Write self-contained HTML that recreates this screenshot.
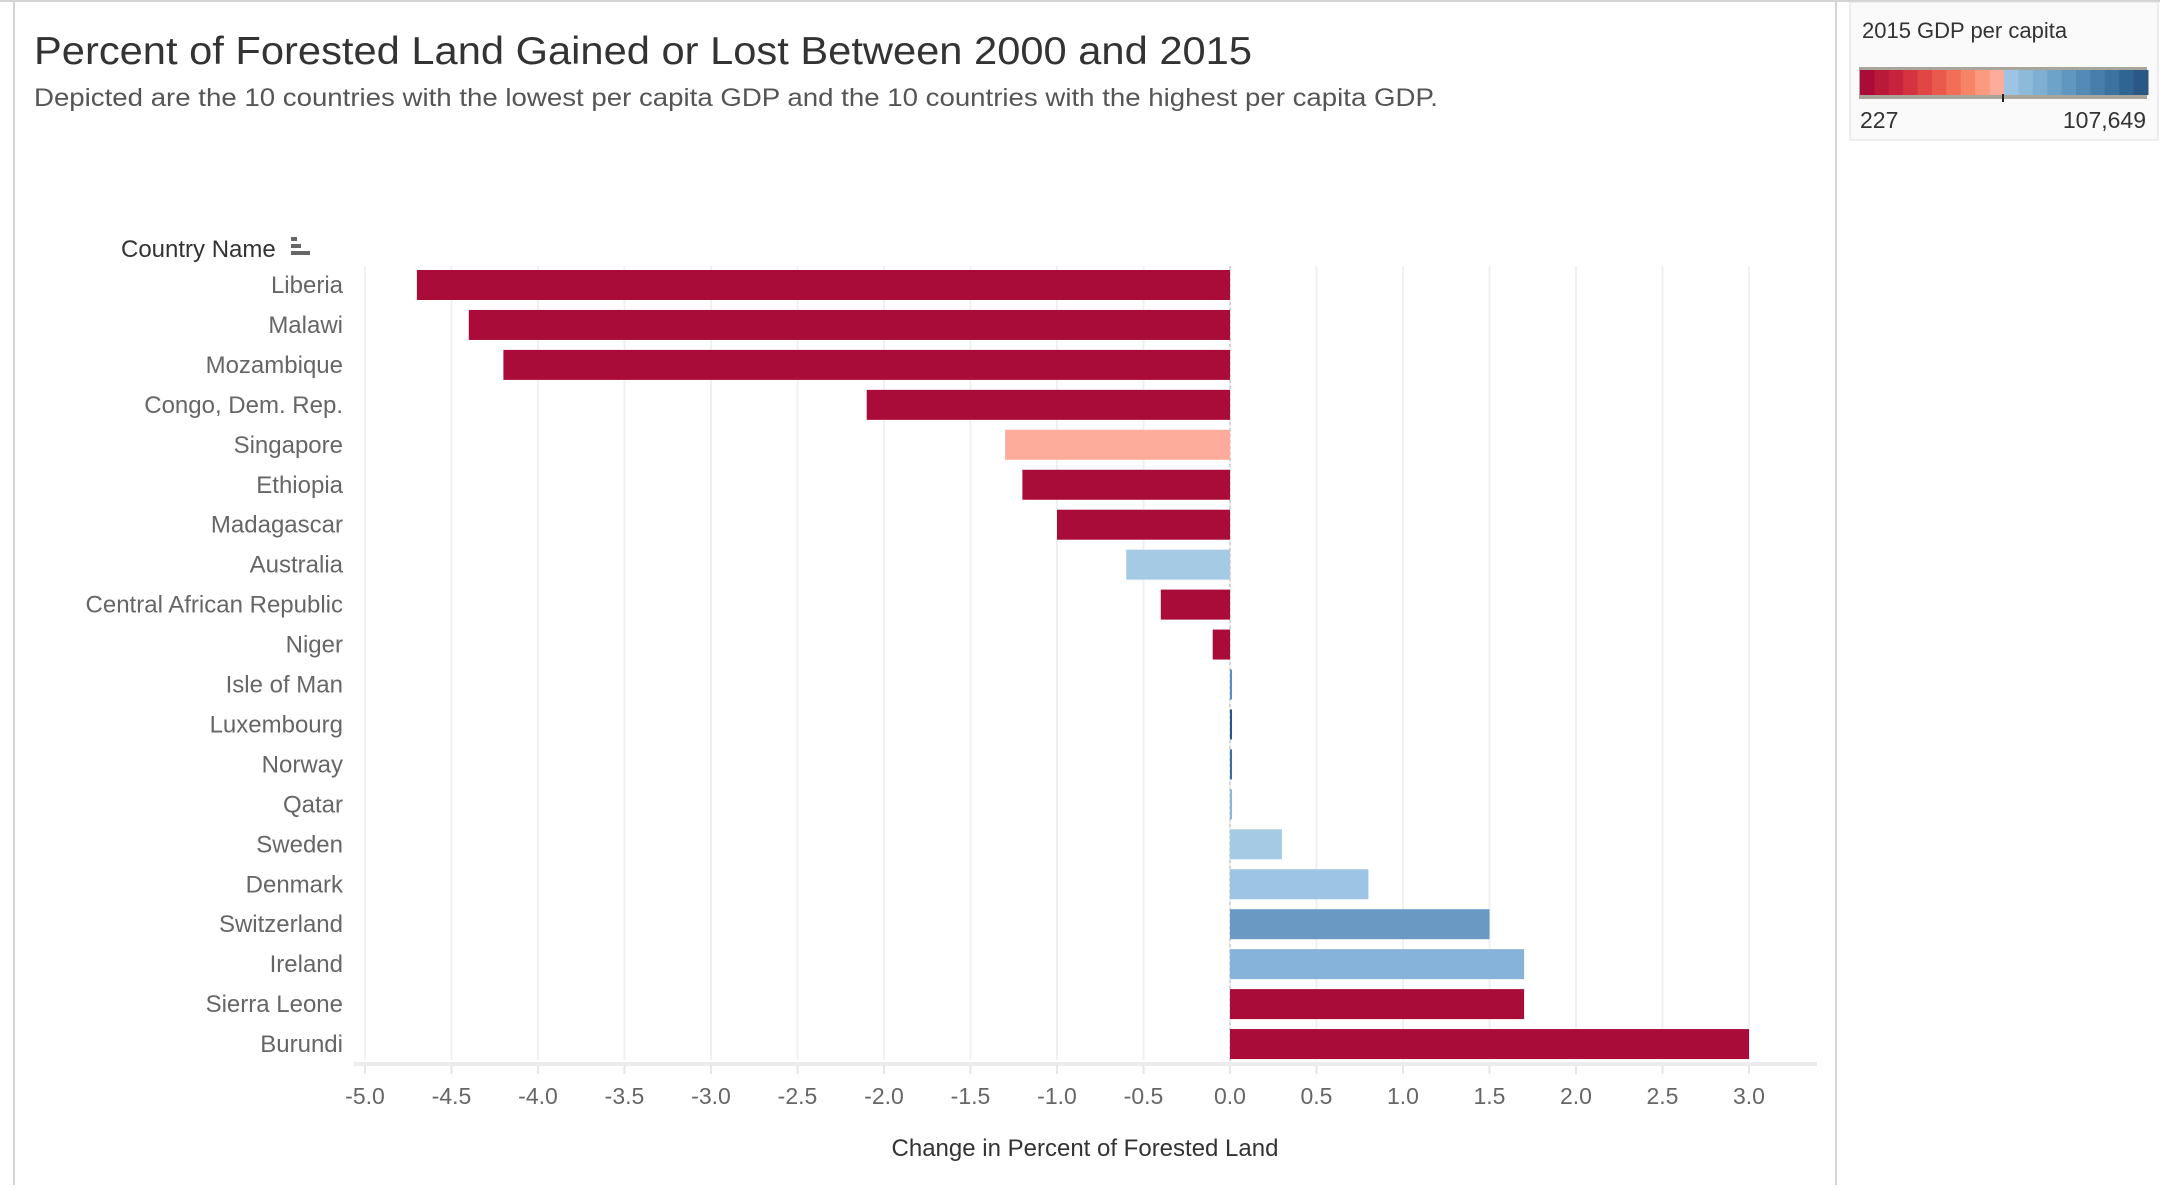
<!DOCTYPE html>
<html><head><meta charset="utf-8"><style>
body{margin:0;width:2160px;height:1185px;background:#fff;overflow:hidden;font-family:"Liberation Sans",sans-serif;}
</style></head><body>
<svg width="2160" height="1185" xmlns="http://www.w3.org/2000/svg">
<rect x="0" y="0" width="2160" height="2" fill="#d4d4d4"/>
<rect x="13" y="0" width="2" height="1185" fill="#d4d4d4"/>
<rect x="1835" y="0" width="2" height="1185" fill="#d4d4d4"/>
<text x="34" y="64" font-size="39" fill="#333" textLength="1218" lengthAdjust="spacingAndGlyphs">Percent of Forested Land Gained or Lost Between 2000 and 2015</text>
<text x="34" y="106" font-size="25" fill="#555" textLength="1404" lengthAdjust="spacingAndGlyphs">Depicted are the 10 countries with the lowest per capita GDP and the 10 countries with the highest per capita GDP.</text>
<g>
<rect x="1850" y="2" width="308" height="138" fill="#fafafa" stroke="#ddd"/>
<text x="1862" y="38" font-size="22" fill="#333">2015 GDP per capita</text>
<rect x="1859" y="67" width="288" height="32" fill="#aaa59a"/>
<g id="ramp"></g>
<line x1="2003" y1="94" x2="2003" y2="102" stroke="#222" stroke-width="2"/>
<text x="1860" y="128" font-size="23" fill="#333">227</text>
<text x="2146" y="128" font-size="23" fill="#333" text-anchor="end">107,649</text>
</g>
<text x="121" y="257" font-size="24" fill="#333">Country Name</text>
<g><rect x="291" y="237" width="6" height="4" fill="#666"/><rect x="291" y="244" width="10" height="4" fill="#666"/><rect x="291" y="251" width="19" height="4" fill="#666"/></g>
<g id="grid"></g><g id="bars"></g><g id="labels"></g><g id="ticks"></g>
<text x="1085" y="1156" font-size="24" fill="#333" text-anchor="middle">Change in Percent of Forested Land</text>
</svg>
<script>
const countries=["Liberia","Malawi","Mozambique","Congo, Dem. Rep.","Singapore","Ethiopia","Madagascar","Australia","Central African Republic","Niger","Isle of Man","Luxembourg","Norway","Qatar","Sweden","Denmark","Switzerland","Ireland","Sierra Leone","Burundi"];
const values=[-4.7,-4.4,-4.2,-2.1,-1.3,-1.2,-1.0,-0.6,-0.4,-0.1,0.01,0.01,0.01,0.01,0.3,0.8,1.5,1.7,1.7,3.0];
const colors=["#a90c38","#a90c38","#a90c38","#a90c38","#fdab9a","#a90c38","#a90c38","#a5cae4","#a90c38","#a90c38","#5b8fc0","#2a5783","#3e6fa3","#8cb6da","#a5cae4","#9ec4e3","#6a9ac4","#86b3d9","#a90c38","#a90c38"];
const ticks=[-5,-4.5,-4,-3.5,-3,-2.5,-2,-1.5,-1,-0.5,0,0.5,1,1.5,2,2.5,3];
const rampColors=["#a90c38","#b91a3a","#c8233d","#d63340","#e04644","#ea5a4c","#f26e58","#f88468","#fb9a7e","#fdab9a","#9ec4e3","#8ebada","#7eafd2","#6ea3c9","#6097c0","#538bb6","#477fab","#3b729f","#2f6592","#2a5783"];
const NS="http://www.w3.org/2000/svg";
const x=v=>1230+v*173, yc=i=>285+i*39.95;
function mk(t,a,p){const e=document.createElementNS(NS,t);for(const k in a)e.setAttribute(k,a[k]);p.appendChild(e);return e;}
const grid=document.getElementById('grid'),bars=document.getElementById('bars'),labels=document.getElementById('labels'),tk=document.getElementById('ticks'),ramp=document.getElementById('ramp');
ticks.forEach(t=>{
 const g=mk('line',{x1:x(t),x2:x(t),y1:266,y2:1060,stroke:"#f0f0f0","stroke-width":2},grid);
 
 
 const m=mk('line',{x1:x(t),x2:x(t),y1:1066,y2:1074,stroke:"#e6e6e6","stroke-width":2},tk);
 
 
 const l=mk('text',{x:x(t),y:1104,"font-size":23,fill:"#666","text-anchor":"middle"},tk);
 l.textContent=t.toFixed(1);
 
 
});
const ax=mk('line',{x1:354,x2:1817,y1:1064,y2:1064,stroke:"#ececec","stroke-width":4},grid);


const z=mk('line',{x1:x(0),x2:x(0),y1:266,y2:1064,stroke:"#ccc","stroke-width":1.5,"stroke-dasharray":"3,3"},grid);


countries.forEach((c,i)=>{
 const v=values[i],x0=Math.min(x(0),x(v)),w=Math.max(Math.abs(x(v)-x(0)),2);
 const b=mk('rect',{x:x0,y:yc(i)-15,width:w,height:30,fill:colors[i]},bars);
 
 
 const t=mk('text',{x:343,y:yc(i)+8,"font-size":24,fill:"#666","text-anchor":"end"},labels);
 t.textContent=c;
 
 
});
const rw=288/rampColors.length;
rampColors.forEach((c,i)=>{
 const r=mk('rect',{x:1860+i*rw,y:70,width:rw+0.5,height:25,fill:c},ramp);
 
 
});
</script>
</body></html>
